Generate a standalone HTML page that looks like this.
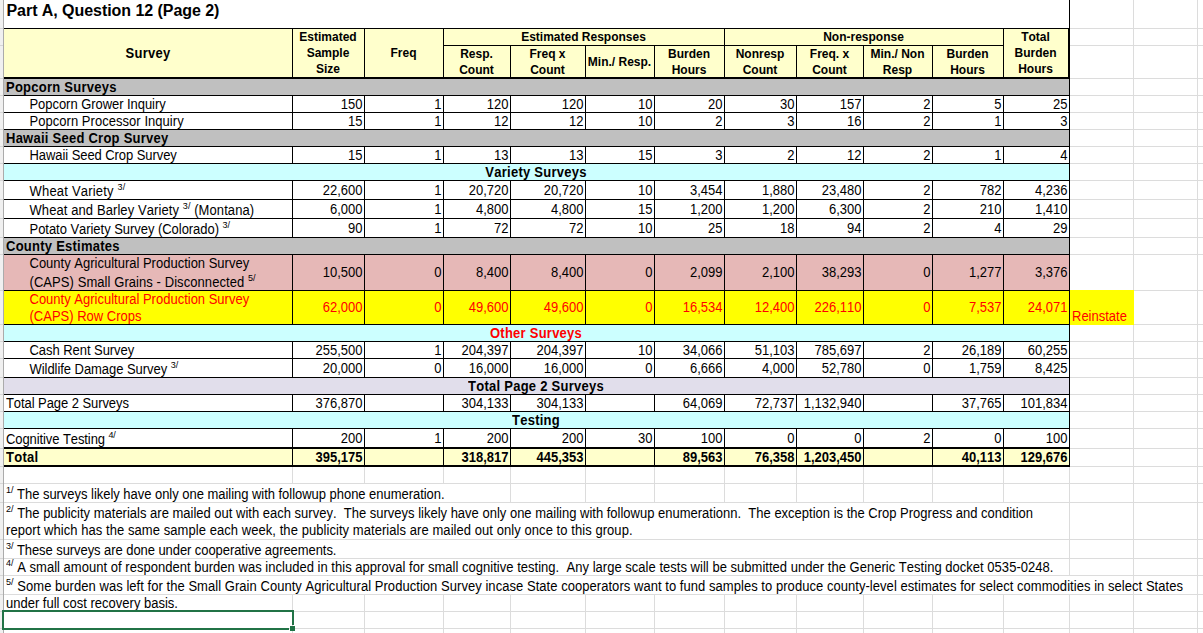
<!DOCTYPE html>
<html><head><meta charset="utf-8"><style>
html,body{margin:0;padding:0;background:#fff;}
body{width:1203px;height:633px;position:relative;overflow:hidden;font-family:"Liberation Sans", sans-serif;}
div{position:absolute;}
.t{white-space:pre;font-kerning:none;}
.sup{font-size:9px;position:relative;top:-6px;line-height:0;}
</style></head><body>
<div style="left:0px;top:0px;width:3px;height:633px;background:#f0f0f0"></div>
<div style="left:3px;top:0px;width:1px;height:633px;background:#ababab"></div>
<div style="left:0px;top:28px;width:3px;height:1px;background:#d6d6d6"></div>
<div style="left:0px;top:45px;width:3px;height:1px;background:#d6d6d6"></div>
<div style="left:0px;top:78px;width:3px;height:1px;background:#d6d6d6"></div>
<div style="left:0px;top:95px;width:3px;height:1px;background:#d6d6d6"></div>
<div style="left:0px;top:112px;width:3px;height:1px;background:#d6d6d6"></div>
<div style="left:0px;top:129px;width:3px;height:1px;background:#d6d6d6"></div>
<div style="left:0px;top:146px;width:3px;height:1px;background:#d6d6d6"></div>
<div style="left:0px;top:163px;width:3px;height:1px;background:#d6d6d6"></div>
<div style="left:0px;top:180px;width:3px;height:1px;background:#d6d6d6"></div>
<div style="left:0px;top:199px;width:3px;height:1px;background:#d6d6d6"></div>
<div style="left:0px;top:218px;width:3px;height:1px;background:#d6d6d6"></div>
<div style="left:0px;top:237px;width:3px;height:1px;background:#d6d6d6"></div>
<div style="left:0px;top:254px;width:3px;height:1px;background:#d6d6d6"></div>
<div style="left:0px;top:290px;width:3px;height:1px;background:#d6d6d6"></div>
<div style="left:0px;top:324px;width:3px;height:1px;background:#d6d6d6"></div>
<div style="left:0px;top:341px;width:3px;height:1px;background:#d6d6d6"></div>
<div style="left:0px;top:358px;width:3px;height:1px;background:#d6d6d6"></div>
<div style="left:0px;top:377px;width:3px;height:1px;background:#d6d6d6"></div>
<div style="left:0px;top:394px;width:3px;height:1px;background:#d6d6d6"></div>
<div style="left:0px;top:411px;width:3px;height:1px;background:#d6d6d6"></div>
<div style="left:0px;top:428px;width:3px;height:1px;background:#d6d6d6"></div>
<div style="left:0px;top:448px;width:3px;height:1px;background:#d6d6d6"></div>
<div style="left:0px;top:466px;width:3px;height:1px;background:#d6d6d6"></div>
<div style="left:0px;top:483px;width:3px;height:1px;background:#d6d6d6"></div>
<div style="left:0px;top:502px;width:3px;height:1px;background:#d6d6d6"></div>
<div style="left:0px;top:539px;width:3px;height:1px;background:#d6d6d6"></div>
<div style="left:0px;top:558px;width:3px;height:1px;background:#d6d6d6"></div>
<div style="left:0px;top:575px;width:3px;height:1px;background:#d6d6d6"></div>
<div style="left:0px;top:594px;width:3px;height:1px;background:#d6d6d6"></div>
<div style="left:0px;top:611px;width:3px;height:1px;background:#d6d6d6"></div>
<div style="left:0px;top:628px;width:3px;height:1px;background:#d6d6d6"></div>
<div style="left:1070px;top:28px;width:133px;height:1px;background:#dcdcdc"></div>
<div style="left:1070px;top:45px;width:133px;height:1px;background:#dcdcdc"></div>
<div style="left:1070px;top:78px;width:133px;height:1px;background:#dcdcdc"></div>
<div style="left:1070px;top:95px;width:133px;height:1px;background:#dcdcdc"></div>
<div style="left:1070px;top:112px;width:133px;height:1px;background:#dcdcdc"></div>
<div style="left:1070px;top:129px;width:133px;height:1px;background:#dcdcdc"></div>
<div style="left:1070px;top:146px;width:133px;height:1px;background:#dcdcdc"></div>
<div style="left:1070px;top:163px;width:133px;height:1px;background:#dcdcdc"></div>
<div style="left:1070px;top:180px;width:133px;height:1px;background:#dcdcdc"></div>
<div style="left:1070px;top:199px;width:133px;height:1px;background:#dcdcdc"></div>
<div style="left:1070px;top:218px;width:133px;height:1px;background:#dcdcdc"></div>
<div style="left:1070px;top:237px;width:133px;height:1px;background:#dcdcdc"></div>
<div style="left:1070px;top:254px;width:133px;height:1px;background:#dcdcdc"></div>
<div style="left:1070px;top:290px;width:133px;height:1px;background:#dcdcdc"></div>
<div style="left:1070px;top:324px;width:133px;height:1px;background:#dcdcdc"></div>
<div style="left:1070px;top:341px;width:133px;height:1px;background:#dcdcdc"></div>
<div style="left:1070px;top:358px;width:133px;height:1px;background:#dcdcdc"></div>
<div style="left:1070px;top:377px;width:133px;height:1px;background:#dcdcdc"></div>
<div style="left:1070px;top:394px;width:133px;height:1px;background:#dcdcdc"></div>
<div style="left:1070px;top:411px;width:133px;height:1px;background:#dcdcdc"></div>
<div style="left:1070px;top:428px;width:133px;height:1px;background:#dcdcdc"></div>
<div style="left:1070px;top:448px;width:133px;height:1px;background:#dcdcdc"></div>
<div style="left:1070px;top:466px;width:133px;height:1px;background:#dcdcdc"></div>
<div style="left:1070px;top:483px;width:133px;height:1px;background:#dcdcdc"></div>
<div style="left:1070px;top:502px;width:133px;height:1px;background:#dcdcdc"></div>
<div style="left:1070px;top:539px;width:133px;height:1px;background:#dcdcdc"></div>
<div style="left:1070px;top:558px;width:133px;height:1px;background:#dcdcdc"></div>
<div style="left:1070px;top:575px;width:133px;height:1px;background:#dcdcdc"></div>
<div style="left:1070px;top:594px;width:133px;height:1px;background:#dcdcdc"></div>
<div style="left:1070px;top:611px;width:133px;height:1px;background:#dcdcdc"></div>
<div style="left:1070px;top:628px;width:133px;height:1px;background:#dcdcdc"></div>
<div style="left:1133px;top:0px;width:1px;height:633px;background:#dcdcdc"></div>
<div style="left:1197px;top:0px;width:1px;height:633px;background:#dcdcdc"></div>
<div style="left:4px;top:483px;width:1066px;height:1px;background:#dcdcdc"></div>
<div style="left:4px;top:502px;width:1066px;height:1px;background:#dcdcdc"></div>
<div style="left:4px;top:539px;width:1066px;height:1px;background:#dcdcdc"></div>
<div style="left:4px;top:558px;width:1066px;height:1px;background:#dcdcdc"></div>
<div style="left:4px;top:575px;width:1066px;height:1px;background:#dcdcdc"></div>
<div style="left:4px;top:594px;width:1066px;height:1px;background:#dcdcdc"></div>
<div style="left:4px;top:611px;width:1066px;height:1px;background:#dcdcdc"></div>
<div style="left:4px;top:628px;width:1066px;height:1px;background:#dcdcdc"></div>
<div style="left:292px;top:467px;width:1px;height:16px;background:#dcdcdc"></div>
<div style="left:364px;top:467px;width:1px;height:16px;background:#dcdcdc"></div>
<div style="left:443px;top:467px;width:1px;height:16px;background:#dcdcdc"></div>
<div style="left:510px;top:467px;width:1px;height:16px;background:#dcdcdc"></div>
<div style="left:585px;top:467px;width:1px;height:16px;background:#dcdcdc"></div>
<div style="left:654px;top:467px;width:1px;height:16px;background:#dcdcdc"></div>
<div style="left:724px;top:467px;width:1px;height:16px;background:#dcdcdc"></div>
<div style="left:796px;top:467px;width:1px;height:16px;background:#dcdcdc"></div>
<div style="left:863px;top:467px;width:1px;height:16px;background:#dcdcdc"></div>
<div style="left:932px;top:467px;width:1px;height:16px;background:#dcdcdc"></div>
<div style="left:1003px;top:467px;width:1px;height:16px;background:#dcdcdc"></div>
<div style="left:1069px;top:467px;width:1px;height:16px;background:#dcdcdc"></div>
<div style="left:510px;top:484px;width:1px;height:18px;background:#dcdcdc"></div>
<div style="left:585px;top:484px;width:1px;height:18px;background:#dcdcdc"></div>
<div style="left:654px;top:484px;width:1px;height:18px;background:#dcdcdc"></div>
<div style="left:724px;top:484px;width:1px;height:18px;background:#dcdcdc"></div>
<div style="left:796px;top:484px;width:1px;height:18px;background:#dcdcdc"></div>
<div style="left:863px;top:484px;width:1px;height:18px;background:#dcdcdc"></div>
<div style="left:932px;top:484px;width:1px;height:18px;background:#dcdcdc"></div>
<div style="left:1003px;top:484px;width:1px;height:18px;background:#dcdcdc"></div>
<div style="left:1069px;top:484px;width:1px;height:18px;background:#dcdcdc"></div>
<div style="left:1069px;top:503px;width:1px;height:36px;background:#dcdcdc"></div>
<div style="left:1069px;top:540px;width:1px;height:18px;background:#dcdcdc"></div>
<div style="left:1069px;top:559px;width:1px;height:16px;background:#dcdcdc"></div>
<div style="left:292px;top:595px;width:1px;height:16px;background:#dcdcdc"></div>
<div style="left:364px;top:595px;width:1px;height:16px;background:#dcdcdc"></div>
<div style="left:443px;top:595px;width:1px;height:16px;background:#dcdcdc"></div>
<div style="left:510px;top:595px;width:1px;height:16px;background:#dcdcdc"></div>
<div style="left:585px;top:595px;width:1px;height:16px;background:#dcdcdc"></div>
<div style="left:654px;top:595px;width:1px;height:16px;background:#dcdcdc"></div>
<div style="left:724px;top:595px;width:1px;height:16px;background:#dcdcdc"></div>
<div style="left:796px;top:595px;width:1px;height:16px;background:#dcdcdc"></div>
<div style="left:863px;top:595px;width:1px;height:16px;background:#dcdcdc"></div>
<div style="left:932px;top:595px;width:1px;height:16px;background:#dcdcdc"></div>
<div style="left:1003px;top:595px;width:1px;height:16px;background:#dcdcdc"></div>
<div style="left:1069px;top:595px;width:1px;height:16px;background:#dcdcdc"></div>
<div style="left:292px;top:612px;width:1px;height:16px;background:#dcdcdc"></div>
<div style="left:364px;top:612px;width:1px;height:16px;background:#dcdcdc"></div>
<div style="left:443px;top:612px;width:1px;height:16px;background:#dcdcdc"></div>
<div style="left:510px;top:612px;width:1px;height:16px;background:#dcdcdc"></div>
<div style="left:585px;top:612px;width:1px;height:16px;background:#dcdcdc"></div>
<div style="left:654px;top:612px;width:1px;height:16px;background:#dcdcdc"></div>
<div style="left:724px;top:612px;width:1px;height:16px;background:#dcdcdc"></div>
<div style="left:796px;top:612px;width:1px;height:16px;background:#dcdcdc"></div>
<div style="left:863px;top:612px;width:1px;height:16px;background:#dcdcdc"></div>
<div style="left:932px;top:612px;width:1px;height:16px;background:#dcdcdc"></div>
<div style="left:1003px;top:612px;width:1px;height:16px;background:#dcdcdc"></div>
<div style="left:1069px;top:612px;width:1px;height:16px;background:#dcdcdc"></div>
<div style="left:292px;top:629px;width:1px;height:4px;background:#dcdcdc"></div>
<div style="left:364px;top:629px;width:1px;height:4px;background:#dcdcdc"></div>
<div style="left:443px;top:629px;width:1px;height:4px;background:#dcdcdc"></div>
<div style="left:510px;top:629px;width:1px;height:4px;background:#dcdcdc"></div>
<div style="left:585px;top:629px;width:1px;height:4px;background:#dcdcdc"></div>
<div style="left:654px;top:629px;width:1px;height:4px;background:#dcdcdc"></div>
<div style="left:724px;top:629px;width:1px;height:4px;background:#dcdcdc"></div>
<div style="left:796px;top:629px;width:1px;height:4px;background:#dcdcdc"></div>
<div style="left:863px;top:629px;width:1px;height:4px;background:#dcdcdc"></div>
<div style="left:932px;top:629px;width:1px;height:4px;background:#dcdcdc"></div>
<div style="left:1003px;top:629px;width:1px;height:4px;background:#dcdcdc"></div>
<div style="left:1069px;top:629px;width:1px;height:4px;background:#dcdcdc"></div>
<div style="left:4px;top:28px;width:1065px;height:50px;background:#ffffcc"></div>
<div style="left:4px;top:79px;width:1065px;height:16px;background:#c0c0c0"></div>
<div style="left:4px;top:130px;width:1065px;height:16px;background:#c0c0c0"></div>
<div style="left:4px;top:164px;width:1065px;height:16px;background:#ccffff"></div>
<div style="left:4px;top:238px;width:1065px;height:16px;background:#c0c0c0"></div>
<div style="left:4px;top:255px;width:1065px;height:35px;background:#e6b8b7"></div>
<div style="left:4px;top:291px;width:1065px;height:33px;background:#ffff00"></div>
<div style="left:1070px;top:290px;width:64px;height:35px;background:#ffff00"></div>
<div style="left:4px;top:325px;width:1065px;height:16px;background:#ccffff"></div>
<div style="left:4px;top:378px;width:1065px;height:16px;background:#e1deeb"></div>
<div style="left:4px;top:412px;width:1065px;height:16px;background:#ccffff"></div>
<div style="left:4px;top:449px;width:1065px;height:16px;background:#ffffcc"></div>
<div style="left:4px;top:28px;width:1066px;height:1px;background:#000"></div>
<div style="left:443px;top:45px;width:560px;height:1px;background:#000"></div>
<div style="left:4px;top:77px;width:1066px;height:2px;background:#000"></div>
<div style="left:4px;top:95px;width:1066px;height:1px;background:#000"></div>
<div style="left:4px;top:112px;width:1066px;height:1px;background:#000"></div>
<div style="left:4px;top:129px;width:1066px;height:1px;background:#000"></div>
<div style="left:4px;top:146px;width:1066px;height:1px;background:#000"></div>
<div style="left:4px;top:163px;width:1066px;height:1px;background:#000"></div>
<div style="left:4px;top:180px;width:1066px;height:1px;background:#000"></div>
<div style="left:4px;top:199px;width:1066px;height:1px;background:#000"></div>
<div style="left:4px;top:218px;width:1066px;height:1px;background:#000"></div>
<div style="left:4px;top:237px;width:1066px;height:1px;background:#000"></div>
<div style="left:4px;top:254px;width:1066px;height:1px;background:#000"></div>
<div style="left:4px;top:290px;width:1066px;height:1px;background:#000"></div>
<div style="left:4px;top:324px;width:1066px;height:1px;background:#000"></div>
<div style="left:4px;top:341px;width:1066px;height:1px;background:#000"></div>
<div style="left:4px;top:358px;width:1066px;height:1px;background:#000"></div>
<div style="left:4px;top:377px;width:1066px;height:1px;background:#000"></div>
<div style="left:4px;top:394px;width:1066px;height:1px;background:#000"></div>
<div style="left:4px;top:411px;width:1066px;height:1px;background:#000"></div>
<div style="left:4px;top:428px;width:1066px;height:1px;background:#000"></div>
<div style="left:4px;top:447px;width:1066px;height:2px;background:#000"></div>
<div style="left:4px;top:465px;width:1066px;height:2px;background:#000"></div>
<div style="left:1069px;top:0px;width:1px;height:28px;background:#000"></div>
<div style="left:1068px;top:28px;width:2px;height:51px;background:#000"></div>
<div style="left:1069px;top:79px;width:1px;height:388px;background:#000"></div>
<div style="left:292px;top:28px;width:1px;height:50px;background:#000"></div>
<div style="left:364px;top:28px;width:1px;height:50px;background:#000"></div>
<div style="left:443px;top:28px;width:1px;height:50px;background:#000"></div>
<div style="left:724px;top:28px;width:1px;height:50px;background:#000"></div>
<div style="left:1003px;top:28px;width:1px;height:50px;background:#000"></div>
<div style="left:510px;top:45px;width:1px;height:33px;background:#000"></div>
<div style="left:585px;top:45px;width:1px;height:33px;background:#000"></div>
<div style="left:654px;top:45px;width:1px;height:33px;background:#000"></div>
<div style="left:796px;top:45px;width:1px;height:33px;background:#000"></div>
<div style="left:863px;top:45px;width:1px;height:33px;background:#000"></div>
<div style="left:932px;top:45px;width:1px;height:33px;background:#000"></div>
<div style="left:292px;top:95px;width:1px;height:34px;background:#000"></div>
<div style="left:364px;top:95px;width:1px;height:34px;background:#000"></div>
<div style="left:443px;top:95px;width:1px;height:34px;background:#000"></div>
<div style="left:510px;top:95px;width:1px;height:34px;background:#000"></div>
<div style="left:585px;top:95px;width:1px;height:34px;background:#000"></div>
<div style="left:654px;top:95px;width:1px;height:34px;background:#000"></div>
<div style="left:724px;top:95px;width:1px;height:34px;background:#000"></div>
<div style="left:796px;top:95px;width:1px;height:34px;background:#000"></div>
<div style="left:863px;top:95px;width:1px;height:34px;background:#000"></div>
<div style="left:932px;top:95px;width:1px;height:34px;background:#000"></div>
<div style="left:1003px;top:95px;width:1px;height:34px;background:#000"></div>
<div style="left:292px;top:146px;width:1px;height:17px;background:#000"></div>
<div style="left:364px;top:146px;width:1px;height:17px;background:#000"></div>
<div style="left:443px;top:146px;width:1px;height:17px;background:#000"></div>
<div style="left:510px;top:146px;width:1px;height:17px;background:#000"></div>
<div style="left:585px;top:146px;width:1px;height:17px;background:#000"></div>
<div style="left:654px;top:146px;width:1px;height:17px;background:#000"></div>
<div style="left:724px;top:146px;width:1px;height:17px;background:#000"></div>
<div style="left:796px;top:146px;width:1px;height:17px;background:#000"></div>
<div style="left:863px;top:146px;width:1px;height:17px;background:#000"></div>
<div style="left:932px;top:146px;width:1px;height:17px;background:#000"></div>
<div style="left:1003px;top:146px;width:1px;height:17px;background:#000"></div>
<div style="left:292px;top:180px;width:1px;height:57px;background:#000"></div>
<div style="left:364px;top:180px;width:1px;height:57px;background:#000"></div>
<div style="left:443px;top:180px;width:1px;height:57px;background:#000"></div>
<div style="left:510px;top:180px;width:1px;height:57px;background:#000"></div>
<div style="left:585px;top:180px;width:1px;height:57px;background:#000"></div>
<div style="left:654px;top:180px;width:1px;height:57px;background:#000"></div>
<div style="left:724px;top:180px;width:1px;height:57px;background:#000"></div>
<div style="left:796px;top:180px;width:1px;height:57px;background:#000"></div>
<div style="left:863px;top:180px;width:1px;height:57px;background:#000"></div>
<div style="left:932px;top:180px;width:1px;height:57px;background:#000"></div>
<div style="left:1003px;top:180px;width:1px;height:57px;background:#000"></div>
<div style="left:292px;top:254px;width:1px;height:70px;background:#000"></div>
<div style="left:364px;top:254px;width:1px;height:70px;background:#000"></div>
<div style="left:443px;top:254px;width:1px;height:70px;background:#000"></div>
<div style="left:510px;top:254px;width:1px;height:70px;background:#000"></div>
<div style="left:585px;top:254px;width:1px;height:70px;background:#000"></div>
<div style="left:654px;top:254px;width:1px;height:70px;background:#000"></div>
<div style="left:724px;top:254px;width:1px;height:70px;background:#000"></div>
<div style="left:796px;top:254px;width:1px;height:70px;background:#000"></div>
<div style="left:863px;top:254px;width:1px;height:70px;background:#000"></div>
<div style="left:932px;top:254px;width:1px;height:70px;background:#000"></div>
<div style="left:1003px;top:254px;width:1px;height:70px;background:#000"></div>
<div style="left:292px;top:341px;width:1px;height:36px;background:#000"></div>
<div style="left:364px;top:341px;width:1px;height:36px;background:#000"></div>
<div style="left:443px;top:341px;width:1px;height:36px;background:#000"></div>
<div style="left:510px;top:341px;width:1px;height:36px;background:#000"></div>
<div style="left:585px;top:341px;width:1px;height:36px;background:#000"></div>
<div style="left:654px;top:341px;width:1px;height:36px;background:#000"></div>
<div style="left:724px;top:341px;width:1px;height:36px;background:#000"></div>
<div style="left:796px;top:341px;width:1px;height:36px;background:#000"></div>
<div style="left:863px;top:341px;width:1px;height:36px;background:#000"></div>
<div style="left:932px;top:341px;width:1px;height:36px;background:#000"></div>
<div style="left:1003px;top:341px;width:1px;height:36px;background:#000"></div>
<div style="left:292px;top:394px;width:1px;height:17px;background:#000"></div>
<div style="left:364px;top:394px;width:1px;height:17px;background:#000"></div>
<div style="left:443px;top:394px;width:1px;height:17px;background:#000"></div>
<div style="left:510px;top:394px;width:1px;height:17px;background:#000"></div>
<div style="left:585px;top:394px;width:1px;height:17px;background:#000"></div>
<div style="left:654px;top:394px;width:1px;height:17px;background:#000"></div>
<div style="left:724px;top:394px;width:1px;height:17px;background:#000"></div>
<div style="left:796px;top:394px;width:1px;height:17px;background:#000"></div>
<div style="left:863px;top:394px;width:1px;height:17px;background:#000"></div>
<div style="left:932px;top:394px;width:1px;height:17px;background:#000"></div>
<div style="left:1003px;top:394px;width:1px;height:17px;background:#000"></div>
<div style="left:292px;top:428px;width:1px;height:38px;background:#000"></div>
<div style="left:364px;top:428px;width:1px;height:38px;background:#000"></div>
<div style="left:443px;top:428px;width:1px;height:38px;background:#000"></div>
<div style="left:510px;top:428px;width:1px;height:38px;background:#000"></div>
<div style="left:585px;top:428px;width:1px;height:38px;background:#000"></div>
<div style="left:654px;top:428px;width:1px;height:38px;background:#000"></div>
<div style="left:724px;top:428px;width:1px;height:38px;background:#000"></div>
<div style="left:796px;top:428px;width:1px;height:38px;background:#000"></div>
<div style="left:863px;top:428px;width:1px;height:38px;background:#000"></div>
<div style="left:932px;top:428px;width:1px;height:38px;background:#000"></div>
<div style="left:1003px;top:428px;width:1px;height:38px;background:#000"></div>
<div class="t" style="top:47.00px;font-size:13px;line-height:13px;color:#000;font-weight:bold;letter-spacing:0.25px;transform:scaleY(1.08);transform-origin:0 11.00px;left:-152px;width:600px;text-align:center;">Survey</div>
<div class="t" style="top:30.84px;font-size:12px;line-height:12px;color:#000;font-weight:bold;left:28px;width:600px;text-align:center;">Estimated</div>
<div class="t" style="top:46.84px;font-size:12px;line-height:12px;color:#000;font-weight:bold;left:28px;width:600px;text-align:center;">Sample</div>
<div class="t" style="top:62.84px;font-size:12px;line-height:12px;color:#000;font-weight:bold;left:28px;width:600px;text-align:center;">Size</div>
<div class="t" style="top:46.84px;font-size:12px;line-height:12px;color:#000;font-weight:bold;left:103.5px;width:600px;text-align:center;">Freq</div>
<div class="t" style="top:30.84px;font-size:12px;line-height:12px;color:#000;font-weight:bold;left:283.5px;width:600px;text-align:center;">Estimated Responses</div>
<div class="t" style="top:30.84px;font-size:12px;line-height:12px;color:#000;font-weight:bold;left:563.5px;width:600px;text-align:center;">Non-response</div>
<div class="t" style="top:47.84px;font-size:12px;line-height:12px;color:#000;font-weight:bold;left:176.5px;width:600px;text-align:center;">Resp.</div>
<div class="t" style="top:63.84px;font-size:12px;line-height:12px;color:#000;font-weight:bold;left:176.5px;width:600px;text-align:center;">Count</div>
<div class="t" style="top:47.84px;font-size:12px;line-height:12px;color:#000;font-weight:bold;left:247.5px;width:600px;text-align:center;">Freq x</div>
<div class="t" style="top:63.84px;font-size:12px;line-height:12px;color:#000;font-weight:bold;left:247.5px;width:600px;text-align:center;">Count</div>
<div class="t" style="top:47.84px;font-size:12px;line-height:12px;color:#000;font-weight:bold;left:389px;width:600px;text-align:center;">Burden</div>
<div class="t" style="top:63.84px;font-size:12px;line-height:12px;color:#000;font-weight:bold;left:389px;width:600px;text-align:center;">Hours</div>
<div class="t" style="top:47.84px;font-size:12px;line-height:12px;color:#000;font-weight:bold;left:460px;width:600px;text-align:center;">Nonresp</div>
<div class="t" style="top:63.84px;font-size:12px;line-height:12px;color:#000;font-weight:bold;left:460px;width:600px;text-align:center;">Count</div>
<div class="t" style="top:47.84px;font-size:12px;line-height:12px;color:#000;font-weight:bold;left:529.5px;width:600px;text-align:center;">Freq. x</div>
<div class="t" style="top:63.84px;font-size:12px;line-height:12px;color:#000;font-weight:bold;left:529.5px;width:600px;text-align:center;">Count</div>
<div class="t" style="top:47.84px;font-size:12px;line-height:12px;color:#000;font-weight:bold;left:597.5px;width:600px;text-align:center;">Min./ Non</div>
<div class="t" style="top:63.84px;font-size:12px;line-height:12px;color:#000;font-weight:bold;left:597.5px;width:600px;text-align:center;">Resp</div>
<div class="t" style="top:47.84px;font-size:12px;line-height:12px;color:#000;font-weight:bold;left:667.5px;width:600px;text-align:center;">Burden</div>
<div class="t" style="top:63.84px;font-size:12px;line-height:12px;color:#000;font-weight:bold;left:667.5px;width:600px;text-align:center;">Hours</div>
<div class="t" style="top:55.84px;font-size:12px;line-height:12px;color:#000;font-weight:bold;left:319.5px;width:600px;text-align:center;">Min./ Resp.</div>
<div class="t" style="top:30.84px;font-size:12px;line-height:12px;color:#000;font-weight:bold;left:735.5px;width:600px;text-align:center;">Total</div>
<div class="t" style="top:46.84px;font-size:12px;line-height:12px;color:#000;font-weight:bold;left:735.5px;width:600px;text-align:center;">Burden</div>
<div class="t" style="top:62.84px;font-size:12px;line-height:12px;color:#000;font-weight:bold;left:735.5px;width:600px;text-align:center;">Hours</div>
<div class="t" style="top:3.46px;font-size:16px;line-height:16px;color:#000;font-weight:bold;letter-spacing:-0.05px;left:6.5px;">Part A, Question 12 (Page 2)</div>
<div class="t" style="top:81.00px;font-size:13px;line-height:13px;color:#000;font-weight:bold;letter-spacing:0.25px;transform:scaleY(1.08);transform-origin:0 11.00px;left:6px;">Popcorn Surveys</div>
<div class="t" style="top:132.00px;font-size:13px;line-height:13px;color:#000;font-weight:bold;letter-spacing:0.25px;transform:scaleY(1.08);transform-origin:0 11.00px;left:6px;">Hawaii Seed Crop Survey</div>
<div class="t" style="top:166.00px;font-size:13px;line-height:13px;color:#000;font-weight:bold;letter-spacing:0.25px;transform:scaleY(1.08);transform-origin:0 11.00px;left:236px;width:600px;text-align:center;">Variety Surveys</div>
<div class="t" style="top:240.00px;font-size:13px;line-height:13px;color:#000;font-weight:bold;letter-spacing:0.25px;transform:scaleY(1.08);transform-origin:0 11.00px;left:6px;">County Estimates</div>
<div class="t" style="top:327.00px;font-size:13px;line-height:13px;color:#ff0000;font-weight:bold;letter-spacing:0.25px;transform:scaleY(1.08);transform-origin:0 11.00px;left:236px;width:600px;text-align:center;">Other Surveys</div>
<div class="t" style="top:380.00px;font-size:13px;line-height:13px;color:#000;font-weight:bold;letter-spacing:0.25px;transform:scaleY(1.08);transform-origin:0 11.00px;left:236px;width:600px;text-align:center;">Total Page 2 Surveys</div>
<div class="t" style="top:414.00px;font-size:13px;line-height:13px;color:#000;font-weight:bold;letter-spacing:0.25px;transform:scaleY(1.08);transform-origin:0 11.00px;left:236px;width:600px;text-align:center;">Testing</div>
<div class="t" style="top:98.00px;font-size:13px;line-height:13px;color:#000;letter-spacing:-0.05px;transform:scaleY(1.08);transform-origin:0 11.00px;left:29.5px;">Popcorn Grower Inquiry</div>
<div class="t" style="top:98.00px;font-size:13px;line-height:13px;color:#000;transform:scaleY(1.08);transform-origin:0 11.00px;right:840.5px;text-align:right;">150</div>
<div class="t" style="top:98.00px;font-size:13px;line-height:13px;color:#000;transform:scaleY(1.08);transform-origin:0 11.00px;right:761.5px;text-align:right;">1</div>
<div class="t" style="top:98.00px;font-size:13px;line-height:13px;color:#000;transform:scaleY(1.08);transform-origin:0 11.00px;right:694.5px;text-align:right;">120</div>
<div class="t" style="top:98.00px;font-size:13px;line-height:13px;color:#000;transform:scaleY(1.08);transform-origin:0 11.00px;right:619.5px;text-align:right;">120</div>
<div class="t" style="top:98.00px;font-size:13px;line-height:13px;color:#000;transform:scaleY(1.08);transform-origin:0 11.00px;right:550.5px;text-align:right;">10</div>
<div class="t" style="top:98.00px;font-size:13px;line-height:13px;color:#000;transform:scaleY(1.08);transform-origin:0 11.00px;right:480.5px;text-align:right;">20</div>
<div class="t" style="top:98.00px;font-size:13px;line-height:13px;color:#000;transform:scaleY(1.08);transform-origin:0 11.00px;right:408.5px;text-align:right;">30</div>
<div class="t" style="top:98.00px;font-size:13px;line-height:13px;color:#000;transform:scaleY(1.08);transform-origin:0 11.00px;right:341.5px;text-align:right;">157</div>
<div class="t" style="top:98.00px;font-size:13px;line-height:13px;color:#000;transform:scaleY(1.08);transform-origin:0 11.00px;right:272.5px;text-align:right;">2</div>
<div class="t" style="top:98.00px;font-size:13px;line-height:13px;color:#000;transform:scaleY(1.08);transform-origin:0 11.00px;right:201.5px;text-align:right;">5</div>
<div class="t" style="top:98.00px;font-size:13px;line-height:13px;color:#000;transform:scaleY(1.08);transform-origin:0 11.00px;right:135.5px;text-align:right;">25</div>
<div class="t" style="top:115.00px;font-size:13px;line-height:13px;color:#000;letter-spacing:0.04px;transform:scaleY(1.08);transform-origin:0 11.00px;left:29.5px;">Popcorn Processor Inquiry</div>
<div class="t" style="top:115.00px;font-size:13px;line-height:13px;color:#000;transform:scaleY(1.08);transform-origin:0 11.00px;right:840.5px;text-align:right;">15</div>
<div class="t" style="top:115.00px;font-size:13px;line-height:13px;color:#000;transform:scaleY(1.08);transform-origin:0 11.00px;right:761.5px;text-align:right;">1</div>
<div class="t" style="top:115.00px;font-size:13px;line-height:13px;color:#000;transform:scaleY(1.08);transform-origin:0 11.00px;right:694.5px;text-align:right;">12</div>
<div class="t" style="top:115.00px;font-size:13px;line-height:13px;color:#000;transform:scaleY(1.08);transform-origin:0 11.00px;right:619.5px;text-align:right;">12</div>
<div class="t" style="top:115.00px;font-size:13px;line-height:13px;color:#000;transform:scaleY(1.08);transform-origin:0 11.00px;right:550.5px;text-align:right;">10</div>
<div class="t" style="top:115.00px;font-size:13px;line-height:13px;color:#000;transform:scaleY(1.08);transform-origin:0 11.00px;right:480.5px;text-align:right;">2</div>
<div class="t" style="top:115.00px;font-size:13px;line-height:13px;color:#000;transform:scaleY(1.08);transform-origin:0 11.00px;right:408.5px;text-align:right;">3</div>
<div class="t" style="top:115.00px;font-size:13px;line-height:13px;color:#000;transform:scaleY(1.08);transform-origin:0 11.00px;right:341.5px;text-align:right;">16</div>
<div class="t" style="top:115.00px;font-size:13px;line-height:13px;color:#000;transform:scaleY(1.08);transform-origin:0 11.00px;right:272.5px;text-align:right;">2</div>
<div class="t" style="top:115.00px;font-size:13px;line-height:13px;color:#000;transform:scaleY(1.08);transform-origin:0 11.00px;right:201.5px;text-align:right;">1</div>
<div class="t" style="top:115.00px;font-size:13px;line-height:13px;color:#000;transform:scaleY(1.08);transform-origin:0 11.00px;right:135.5px;text-align:right;">3</div>
<div class="t" style="top:149.00px;font-size:13px;line-height:13px;color:#000;letter-spacing:-0.07px;transform:scaleY(1.08);transform-origin:0 11.00px;left:29.5px;">Hawaii Seed Crop Survey</div>
<div class="t" style="top:149.00px;font-size:13px;line-height:13px;color:#000;transform:scaleY(1.08);transform-origin:0 11.00px;right:840.5px;text-align:right;">15</div>
<div class="t" style="top:149.00px;font-size:13px;line-height:13px;color:#000;transform:scaleY(1.08);transform-origin:0 11.00px;right:761.5px;text-align:right;">1</div>
<div class="t" style="top:149.00px;font-size:13px;line-height:13px;color:#000;transform:scaleY(1.08);transform-origin:0 11.00px;right:694.5px;text-align:right;">13</div>
<div class="t" style="top:149.00px;font-size:13px;line-height:13px;color:#000;transform:scaleY(1.08);transform-origin:0 11.00px;right:619.5px;text-align:right;">13</div>
<div class="t" style="top:149.00px;font-size:13px;line-height:13px;color:#000;transform:scaleY(1.08);transform-origin:0 11.00px;right:550.5px;text-align:right;">15</div>
<div class="t" style="top:149.00px;font-size:13px;line-height:13px;color:#000;transform:scaleY(1.08);transform-origin:0 11.00px;right:480.5px;text-align:right;">3</div>
<div class="t" style="top:149.00px;font-size:13px;line-height:13px;color:#000;transform:scaleY(1.08);transform-origin:0 11.00px;right:408.5px;text-align:right;">2</div>
<div class="t" style="top:149.00px;font-size:13px;line-height:13px;color:#000;transform:scaleY(1.08);transform-origin:0 11.00px;right:341.5px;text-align:right;">12</div>
<div class="t" style="top:149.00px;font-size:13px;line-height:13px;color:#000;transform:scaleY(1.08);transform-origin:0 11.00px;right:272.5px;text-align:right;">2</div>
<div class="t" style="top:149.00px;font-size:13px;line-height:13px;color:#000;transform:scaleY(1.08);transform-origin:0 11.00px;right:201.5px;text-align:right;">1</div>
<div class="t" style="top:149.00px;font-size:13px;line-height:13px;color:#000;transform:scaleY(1.08);transform-origin:0 11.00px;right:135.5px;text-align:right;">4</div>
<div class="t" style="top:185.00px;font-size:13px;line-height:13px;color:#000;letter-spacing:0.2px;transform:scaleY(1.08);transform-origin:0 11.00px;left:29.5px;">Wheat Variety <span class="sup">3/</span></div>
<div class="t" style="top:184.00px;font-size:13px;line-height:13px;color:#000;transform:scaleY(1.08);transform-origin:0 11.00px;right:840.5px;text-align:right;">22,600</div>
<div class="t" style="top:184.00px;font-size:13px;line-height:13px;color:#000;transform:scaleY(1.08);transform-origin:0 11.00px;right:761.5px;text-align:right;">1</div>
<div class="t" style="top:184.00px;font-size:13px;line-height:13px;color:#000;transform:scaleY(1.08);transform-origin:0 11.00px;right:694.5px;text-align:right;">20,720</div>
<div class="t" style="top:184.00px;font-size:13px;line-height:13px;color:#000;transform:scaleY(1.08);transform-origin:0 11.00px;right:619.5px;text-align:right;">20,720</div>
<div class="t" style="top:184.00px;font-size:13px;line-height:13px;color:#000;transform:scaleY(1.08);transform-origin:0 11.00px;right:550.5px;text-align:right;">10</div>
<div class="t" style="top:184.00px;font-size:13px;line-height:13px;color:#000;transform:scaleY(1.08);transform-origin:0 11.00px;right:480.5px;text-align:right;">3,454</div>
<div class="t" style="top:184.00px;font-size:13px;line-height:13px;color:#000;transform:scaleY(1.08);transform-origin:0 11.00px;right:408.5px;text-align:right;">1,880</div>
<div class="t" style="top:184.00px;font-size:13px;line-height:13px;color:#000;transform:scaleY(1.08);transform-origin:0 11.00px;right:341.5px;text-align:right;">23,480</div>
<div class="t" style="top:184.00px;font-size:13px;line-height:13px;color:#000;transform:scaleY(1.08);transform-origin:0 11.00px;right:272.5px;text-align:right;">2</div>
<div class="t" style="top:184.00px;font-size:13px;line-height:13px;color:#000;transform:scaleY(1.08);transform-origin:0 11.00px;right:201.5px;text-align:right;">782</div>
<div class="t" style="top:184.00px;font-size:13px;line-height:13px;color:#000;transform:scaleY(1.08);transform-origin:0 11.00px;right:135.5px;text-align:right;">4,236</div>
<div class="t" style="top:204.00px;font-size:13px;line-height:13px;color:#000;letter-spacing:0.09px;transform:scaleY(1.08);transform-origin:0 11.00px;left:29.5px;">Wheat and Barley Variety <span class="sup">3/</span> (Montana)</div>
<div class="t" style="top:203.00px;font-size:13px;line-height:13px;color:#000;transform:scaleY(1.08);transform-origin:0 11.00px;right:840.5px;text-align:right;">6,000</div>
<div class="t" style="top:203.00px;font-size:13px;line-height:13px;color:#000;transform:scaleY(1.08);transform-origin:0 11.00px;right:761.5px;text-align:right;">1</div>
<div class="t" style="top:203.00px;font-size:13px;line-height:13px;color:#000;transform:scaleY(1.08);transform-origin:0 11.00px;right:694.5px;text-align:right;">4,800</div>
<div class="t" style="top:203.00px;font-size:13px;line-height:13px;color:#000;transform:scaleY(1.08);transform-origin:0 11.00px;right:619.5px;text-align:right;">4,800</div>
<div class="t" style="top:203.00px;font-size:13px;line-height:13px;color:#000;transform:scaleY(1.08);transform-origin:0 11.00px;right:550.5px;text-align:right;">15</div>
<div class="t" style="top:203.00px;font-size:13px;line-height:13px;color:#000;transform:scaleY(1.08);transform-origin:0 11.00px;right:480.5px;text-align:right;">1,200</div>
<div class="t" style="top:203.00px;font-size:13px;line-height:13px;color:#000;transform:scaleY(1.08);transform-origin:0 11.00px;right:408.5px;text-align:right;">1,200</div>
<div class="t" style="top:203.00px;font-size:13px;line-height:13px;color:#000;transform:scaleY(1.08);transform-origin:0 11.00px;right:341.5px;text-align:right;">6,300</div>
<div class="t" style="top:203.00px;font-size:13px;line-height:13px;color:#000;transform:scaleY(1.08);transform-origin:0 11.00px;right:272.5px;text-align:right;">2</div>
<div class="t" style="top:203.00px;font-size:13px;line-height:13px;color:#000;transform:scaleY(1.08);transform-origin:0 11.00px;right:201.5px;text-align:right;">210</div>
<div class="t" style="top:203.00px;font-size:13px;line-height:13px;color:#000;transform:scaleY(1.08);transform-origin:0 11.00px;right:135.5px;text-align:right;">1,410</div>
<div class="t" style="top:223.00px;font-size:13px;line-height:13px;color:#000;letter-spacing:-0.04px;transform:scaleY(1.08);transform-origin:0 11.00px;left:29.5px;">Potato Variety Survey (Colorado) <span class="sup">3/</span></div>
<div class="t" style="top:222.00px;font-size:13px;line-height:13px;color:#000;transform:scaleY(1.08);transform-origin:0 11.00px;right:840.5px;text-align:right;">90</div>
<div class="t" style="top:222.00px;font-size:13px;line-height:13px;color:#000;transform:scaleY(1.08);transform-origin:0 11.00px;right:761.5px;text-align:right;">1</div>
<div class="t" style="top:222.00px;font-size:13px;line-height:13px;color:#000;transform:scaleY(1.08);transform-origin:0 11.00px;right:694.5px;text-align:right;">72</div>
<div class="t" style="top:222.00px;font-size:13px;line-height:13px;color:#000;transform:scaleY(1.08);transform-origin:0 11.00px;right:619.5px;text-align:right;">72</div>
<div class="t" style="top:222.00px;font-size:13px;line-height:13px;color:#000;transform:scaleY(1.08);transform-origin:0 11.00px;right:550.5px;text-align:right;">10</div>
<div class="t" style="top:222.00px;font-size:13px;line-height:13px;color:#000;transform:scaleY(1.08);transform-origin:0 11.00px;right:480.5px;text-align:right;">25</div>
<div class="t" style="top:222.00px;font-size:13px;line-height:13px;color:#000;transform:scaleY(1.08);transform-origin:0 11.00px;right:408.5px;text-align:right;">18</div>
<div class="t" style="top:222.00px;font-size:13px;line-height:13px;color:#000;transform:scaleY(1.08);transform-origin:0 11.00px;right:341.5px;text-align:right;">94</div>
<div class="t" style="top:222.00px;font-size:13px;line-height:13px;color:#000;transform:scaleY(1.08);transform-origin:0 11.00px;right:272.5px;text-align:right;">2</div>
<div class="t" style="top:222.00px;font-size:13px;line-height:13px;color:#000;transform:scaleY(1.08);transform-origin:0 11.00px;right:201.5px;text-align:right;">4</div>
<div class="t" style="top:222.00px;font-size:13px;line-height:13px;color:#000;transform:scaleY(1.08);transform-origin:0 11.00px;right:135.5px;text-align:right;">29</div>
<div class="t" style="top:344.00px;font-size:13px;line-height:13px;color:#000;letter-spacing:-0.05px;transform:scaleY(1.08);transform-origin:0 11.00px;left:29.5px;">Cash Rent Survey</div>
<div class="t" style="top:344.00px;font-size:13px;line-height:13px;color:#000;transform:scaleY(1.08);transform-origin:0 11.00px;right:840.5px;text-align:right;">255,500</div>
<div class="t" style="top:344.00px;font-size:13px;line-height:13px;color:#000;transform:scaleY(1.08);transform-origin:0 11.00px;right:761.5px;text-align:right;">1</div>
<div class="t" style="top:344.00px;font-size:13px;line-height:13px;color:#000;transform:scaleY(1.08);transform-origin:0 11.00px;right:694.5px;text-align:right;">204,397</div>
<div class="t" style="top:344.00px;font-size:13px;line-height:13px;color:#000;transform:scaleY(1.08);transform-origin:0 11.00px;right:619.5px;text-align:right;">204,397</div>
<div class="t" style="top:344.00px;font-size:13px;line-height:13px;color:#000;transform:scaleY(1.08);transform-origin:0 11.00px;right:550.5px;text-align:right;">10</div>
<div class="t" style="top:344.00px;font-size:13px;line-height:13px;color:#000;transform:scaleY(1.08);transform-origin:0 11.00px;right:480.5px;text-align:right;">34,066</div>
<div class="t" style="top:344.00px;font-size:13px;line-height:13px;color:#000;transform:scaleY(1.08);transform-origin:0 11.00px;right:408.5px;text-align:right;">51,103</div>
<div class="t" style="top:344.00px;font-size:13px;line-height:13px;color:#000;transform:scaleY(1.08);transform-origin:0 11.00px;right:341.5px;text-align:right;">785,697</div>
<div class="t" style="top:344.00px;font-size:13px;line-height:13px;color:#000;transform:scaleY(1.08);transform-origin:0 11.00px;right:272.5px;text-align:right;">2</div>
<div class="t" style="top:344.00px;font-size:13px;line-height:13px;color:#000;transform:scaleY(1.08);transform-origin:0 11.00px;right:201.5px;text-align:right;">26,189</div>
<div class="t" style="top:344.00px;font-size:13px;line-height:13px;color:#000;transform:scaleY(1.08);transform-origin:0 11.00px;right:135.5px;text-align:right;">60,255</div>
<div class="t" style="top:363.00px;font-size:13px;line-height:13px;color:#000;letter-spacing:-0.05px;transform:scaleY(1.08);transform-origin:0 11.00px;left:29.5px;">Wildlife Damage Survey <span class="sup">3/</span></div>
<div class="t" style="top:362.00px;font-size:13px;line-height:13px;color:#000;transform:scaleY(1.08);transform-origin:0 11.00px;right:840.5px;text-align:right;">20,000</div>
<div class="t" style="top:362.00px;font-size:13px;line-height:13px;color:#000;transform:scaleY(1.08);transform-origin:0 11.00px;right:761.5px;text-align:right;">0</div>
<div class="t" style="top:362.00px;font-size:13px;line-height:13px;color:#000;transform:scaleY(1.08);transform-origin:0 11.00px;right:694.5px;text-align:right;">16,000</div>
<div class="t" style="top:362.00px;font-size:13px;line-height:13px;color:#000;transform:scaleY(1.08);transform-origin:0 11.00px;right:619.5px;text-align:right;">16,000</div>
<div class="t" style="top:362.00px;font-size:13px;line-height:13px;color:#000;transform:scaleY(1.08);transform-origin:0 11.00px;right:550.5px;text-align:right;">0</div>
<div class="t" style="top:362.00px;font-size:13px;line-height:13px;color:#000;transform:scaleY(1.08);transform-origin:0 11.00px;right:480.5px;text-align:right;">6,666</div>
<div class="t" style="top:362.00px;font-size:13px;line-height:13px;color:#000;transform:scaleY(1.08);transform-origin:0 11.00px;right:408.5px;text-align:right;">4,000</div>
<div class="t" style="top:362.00px;font-size:13px;line-height:13px;color:#000;transform:scaleY(1.08);transform-origin:0 11.00px;right:341.5px;text-align:right;">52,780</div>
<div class="t" style="top:362.00px;font-size:13px;line-height:13px;color:#000;transform:scaleY(1.08);transform-origin:0 11.00px;right:272.5px;text-align:right;">0</div>
<div class="t" style="top:362.00px;font-size:13px;line-height:13px;color:#000;transform:scaleY(1.08);transform-origin:0 11.00px;right:201.5px;text-align:right;">1,759</div>
<div class="t" style="top:362.00px;font-size:13px;line-height:13px;color:#000;transform:scaleY(1.08);transform-origin:0 11.00px;right:135.5px;text-align:right;">8,425</div>
<div class="t" style="top:397.00px;font-size:13px;line-height:13px;color:#000;letter-spacing:-0.07px;transform:scaleY(1.08);transform-origin:0 11.00px;left:6px;">Total Page 2 Surveys</div>
<div class="t" style="top:397.00px;font-size:13px;line-height:13px;color:#000;transform:scaleY(1.08);transform-origin:0 11.00px;right:840.5px;text-align:right;">376,870</div>
<div class="t" style="top:397.00px;font-size:13px;line-height:13px;color:#000;transform:scaleY(1.08);transform-origin:0 11.00px;right:694.5px;text-align:right;">304,133</div>
<div class="t" style="top:397.00px;font-size:13px;line-height:13px;color:#000;transform:scaleY(1.08);transform-origin:0 11.00px;right:619.5px;text-align:right;">304,133</div>
<div class="t" style="top:397.00px;font-size:13px;line-height:13px;color:#000;transform:scaleY(1.08);transform-origin:0 11.00px;right:480.5px;text-align:right;">64,069</div>
<div class="t" style="top:397.00px;font-size:13px;line-height:13px;color:#000;transform:scaleY(1.08);transform-origin:0 11.00px;right:408.5px;text-align:right;">72,737</div>
<div class="t" style="top:397.00px;font-size:13px;line-height:13px;color:#000;transform:scaleY(1.08);transform-origin:0 11.00px;right:341.5px;text-align:right;">1,132,940</div>
<div class="t" style="top:397.00px;font-size:13px;line-height:13px;color:#000;transform:scaleY(1.08);transform-origin:0 11.00px;right:201.5px;text-align:right;">37,765</div>
<div class="t" style="top:397.00px;font-size:13px;line-height:13px;color:#000;transform:scaleY(1.08);transform-origin:0 11.00px;right:135.5px;text-align:right;">101,834</div>
<div class="t" style="top:433.00px;font-size:13px;line-height:13px;color:#000;letter-spacing:-0.09px;transform:scaleY(1.08);transform-origin:0 11.00px;left:6px;">Cognitive Testing <span class="sup">4/</span></div>
<div class="t" style="top:432.00px;font-size:13px;line-height:13px;color:#000;transform:scaleY(1.08);transform-origin:0 11.00px;right:840.5px;text-align:right;">200</div>
<div class="t" style="top:432.00px;font-size:13px;line-height:13px;color:#000;transform:scaleY(1.08);transform-origin:0 11.00px;right:761.5px;text-align:right;">1</div>
<div class="t" style="top:432.00px;font-size:13px;line-height:13px;color:#000;transform:scaleY(1.08);transform-origin:0 11.00px;right:694.5px;text-align:right;">200</div>
<div class="t" style="top:432.00px;font-size:13px;line-height:13px;color:#000;transform:scaleY(1.08);transform-origin:0 11.00px;right:619.5px;text-align:right;">200</div>
<div class="t" style="top:432.00px;font-size:13px;line-height:13px;color:#000;transform:scaleY(1.08);transform-origin:0 11.00px;right:550.5px;text-align:right;">30</div>
<div class="t" style="top:432.00px;font-size:13px;line-height:13px;color:#000;transform:scaleY(1.08);transform-origin:0 11.00px;right:480.5px;text-align:right;">100</div>
<div class="t" style="top:432.00px;font-size:13px;line-height:13px;color:#000;transform:scaleY(1.08);transform-origin:0 11.00px;right:408.5px;text-align:right;">0</div>
<div class="t" style="top:432.00px;font-size:13px;line-height:13px;color:#000;transform:scaleY(1.08);transform-origin:0 11.00px;right:341.5px;text-align:right;">0</div>
<div class="t" style="top:432.00px;font-size:13px;line-height:13px;color:#000;transform:scaleY(1.08);transform-origin:0 11.00px;right:272.5px;text-align:right;">2</div>
<div class="t" style="top:432.00px;font-size:13px;line-height:13px;color:#000;transform:scaleY(1.08);transform-origin:0 11.00px;right:201.5px;text-align:right;">0</div>
<div class="t" style="top:432.00px;font-size:13px;line-height:13px;color:#000;transform:scaleY(1.08);transform-origin:0 11.00px;right:135.5px;text-align:right;">100</div>
<div class="t" style="top:451.00px;font-size:13px;line-height:13px;color:#000;font-weight:bold;letter-spacing:0.25px;transform:scaleY(1.08);transform-origin:0 11.00px;left:6px;">Total</div>
<div class="t" style="top:451.00px;font-size:13px;line-height:13px;color:#000;font-weight:bold;transform:scaleY(1.08);transform-origin:0 11.00px;right:840.5px;text-align:right;">395,175</div>
<div class="t" style="top:451.00px;font-size:13px;line-height:13px;color:#000;font-weight:bold;transform:scaleY(1.08);transform-origin:0 11.00px;right:694.5px;text-align:right;">318,817</div>
<div class="t" style="top:451.00px;font-size:13px;line-height:13px;color:#000;font-weight:bold;transform:scaleY(1.08);transform-origin:0 11.00px;right:619.5px;text-align:right;">445,353</div>
<div class="t" style="top:451.00px;font-size:13px;line-height:13px;color:#000;font-weight:bold;transform:scaleY(1.08);transform-origin:0 11.00px;right:480.5px;text-align:right;">89,563</div>
<div class="t" style="top:451.00px;font-size:13px;line-height:13px;color:#000;font-weight:bold;transform:scaleY(1.08);transform-origin:0 11.00px;right:408.5px;text-align:right;">76,358</div>
<div class="t" style="top:451.00px;font-size:13px;line-height:13px;color:#000;font-weight:bold;transform:scaleY(1.08);transform-origin:0 11.00px;right:341.5px;text-align:right;">1,203,450</div>
<div class="t" style="top:451.00px;font-size:13px;line-height:13px;color:#000;font-weight:bold;transform:scaleY(1.08);transform-origin:0 11.00px;right:201.5px;text-align:right;">40,113</div>
<div class="t" style="top:451.00px;font-size:13px;line-height:13px;color:#000;font-weight:bold;transform:scaleY(1.08);transform-origin:0 11.00px;right:135.5px;text-align:right;">129,676</div>
<div class="t" style="top:257.00px;font-size:13px;line-height:13px;color:#000;transform:scaleY(1.08);transform-origin:0 11.00px;left:29.5px;">County Agricultural Production Survey</div>
<div class="t" style="top:276.00px;font-size:13px;line-height:13px;color:#000;letter-spacing:0.07px;transform:scaleY(1.08);transform-origin:0 11.00px;left:29.5px;">(CAPS) Small Grains - Disconnected <span class="sup">5/</span></div>
<div class="t" style="top:266.00px;font-size:13px;line-height:13px;color:#000;transform:scaleY(1.08);transform-origin:0 11.00px;right:840.5px;text-align:right;">10,500</div>
<div class="t" style="top:266.00px;font-size:13px;line-height:13px;color:#000;transform:scaleY(1.08);transform-origin:0 11.00px;right:761.5px;text-align:right;">0</div>
<div class="t" style="top:266.00px;font-size:13px;line-height:13px;color:#000;transform:scaleY(1.08);transform-origin:0 11.00px;right:694.5px;text-align:right;">8,400</div>
<div class="t" style="top:266.00px;font-size:13px;line-height:13px;color:#000;transform:scaleY(1.08);transform-origin:0 11.00px;right:619.5px;text-align:right;">8,400</div>
<div class="t" style="top:266.00px;font-size:13px;line-height:13px;color:#000;transform:scaleY(1.08);transform-origin:0 11.00px;right:550.5px;text-align:right;">0</div>
<div class="t" style="top:266.00px;font-size:13px;line-height:13px;color:#000;transform:scaleY(1.08);transform-origin:0 11.00px;right:480.5px;text-align:right;">2,099</div>
<div class="t" style="top:266.00px;font-size:13px;line-height:13px;color:#000;transform:scaleY(1.08);transform-origin:0 11.00px;right:408.5px;text-align:right;">2,100</div>
<div class="t" style="top:266.00px;font-size:13px;line-height:13px;color:#000;transform:scaleY(1.08);transform-origin:0 11.00px;right:341.5px;text-align:right;">38,293</div>
<div class="t" style="top:266.00px;font-size:13px;line-height:13px;color:#000;transform:scaleY(1.08);transform-origin:0 11.00px;right:272.5px;text-align:right;">0</div>
<div class="t" style="top:266.00px;font-size:13px;line-height:13px;color:#000;transform:scaleY(1.08);transform-origin:0 11.00px;right:201.5px;text-align:right;">1,277</div>
<div class="t" style="top:266.00px;font-size:13px;line-height:13px;color:#000;transform:scaleY(1.08);transform-origin:0 11.00px;right:135.5px;text-align:right;">3,376</div>
<div class="t" style="top:293.00px;font-size:13px;line-height:13px;color:#ff0000;transform:scaleY(1.08);transform-origin:0 11.00px;left:29.5px;">County Agricultural Production Survey</div>
<div class="t" style="top:310.00px;font-size:13px;line-height:13px;color:#ff0000;transform:scaleY(1.08);transform-origin:0 11.00px;left:29.5px;">(CAPS) Row Crops</div>
<div class="t" style="top:301.00px;font-size:13px;line-height:13px;color:#ff0000;transform:scaleY(1.08);transform-origin:0 11.00px;right:840.5px;text-align:right;">62,000</div>
<div class="t" style="top:301.00px;font-size:13px;line-height:13px;color:#ff0000;transform:scaleY(1.08);transform-origin:0 11.00px;right:761.5px;text-align:right;">0</div>
<div class="t" style="top:301.00px;font-size:13px;line-height:13px;color:#ff0000;transform:scaleY(1.08);transform-origin:0 11.00px;right:694.5px;text-align:right;">49,600</div>
<div class="t" style="top:301.00px;font-size:13px;line-height:13px;color:#ff0000;transform:scaleY(1.08);transform-origin:0 11.00px;right:619.5px;text-align:right;">49,600</div>
<div class="t" style="top:301.00px;font-size:13px;line-height:13px;color:#ff0000;transform:scaleY(1.08);transform-origin:0 11.00px;right:550.5px;text-align:right;">0</div>
<div class="t" style="top:301.00px;font-size:13px;line-height:13px;color:#ff0000;transform:scaleY(1.08);transform-origin:0 11.00px;right:480.5px;text-align:right;">16,534</div>
<div class="t" style="top:301.00px;font-size:13px;line-height:13px;color:#ff0000;transform:scaleY(1.08);transform-origin:0 11.00px;right:408.5px;text-align:right;">12,400</div>
<div class="t" style="top:301.00px;font-size:13px;line-height:13px;color:#ff0000;transform:scaleY(1.08);transform-origin:0 11.00px;right:341.5px;text-align:right;">226,110</div>
<div class="t" style="top:301.00px;font-size:13px;line-height:13px;color:#ff0000;transform:scaleY(1.08);transform-origin:0 11.00px;right:272.5px;text-align:right;">0</div>
<div class="t" style="top:301.00px;font-size:13px;line-height:13px;color:#ff0000;transform:scaleY(1.08);transform-origin:0 11.00px;right:201.5px;text-align:right;">7,537</div>
<div class="t" style="top:301.00px;font-size:13px;line-height:13px;color:#ff0000;transform:scaleY(1.08);transform-origin:0 11.00px;right:135.5px;text-align:right;">24,071</div>
<div class="t" style="top:310.00px;font-size:13px;line-height:13px;color:#ff0000;transform:scaleY(1.08);transform-origin:0 11.00px;left:1072px;">Reinstate</div>
<div class="t" style="top:488.00px;font-size:13px;line-height:13px;color:#000;letter-spacing:-0.033px;transform:scaleY(1.08);transform-origin:0 11.00px;left:6px;"><span class="sup">1/</span> The surveys likely have only one mailing with followup phone enumeration.</div>
<div class="t" style="top:507.00px;font-size:13px;line-height:13px;color:#000;transform:scaleY(1.08);transform-origin:0 11.00px;left:6px;"><span class="sup">2/</span> The publicity materials are mailed out with each survey.&nbsp; The surveys likely have only one mailing with followup enumerationn.&nbsp; The exception is the Crop Progress and condition</div>
<div class="t" style="top:524.00px;font-size:13px;line-height:13px;color:#000;letter-spacing:0.062px;transform:scaleY(1.08);transform-origin:0 11.00px;left:6px;">report which has the same sample each week, the publicity materials are mailed out only once to this group.</div>
<div class="t" style="top:544.00px;font-size:13px;line-height:13px;color:#000;letter-spacing:-0.069px;transform:scaleY(1.08);transform-origin:0 11.00px;left:6px;"><span class="sup">3/</span> These surveys are done under cooperative agreements.</div>
<div class="t" style="top:561.00px;font-size:13px;line-height:13px;color:#000;letter-spacing:0.024px;transform:scaleY(1.08);transform-origin:0 11.00px;left:6px;"><span class="sup">4/</span> A small amount of respondent burden was included in this approval for small cognitive testing.&nbsp; Any large scale tests will be submitted under the Generic Testing docket 0535-0248.</div>
<div class="t" style="top:580.00px;font-size:13px;line-height:13px;color:#000;letter-spacing:0.045px;transform:scaleY(1.08);transform-origin:0 11.00px;left:6px;"><span class="sup">5/</span> Some burden was left for the Small Grain County Agricultural Production Survey incase State cooperators want to fund samples to produce county-level estimates for select commodities in select States</div>
<div class="t" style="top:597.00px;font-size:13px;line-height:13px;color:#000;transform:scaleY(1.08);transform-origin:0 11.00px;left:6px;">under full cost recovery basis.</div>
<div style="left:2px;top:610px;width:292px;height:2px;background:#217346"></div>
<div style="left:2px;top:610px;width:2px;height:20px;background:#217346"></div>
<div style="left:292px;top:610px;width:2px;height:15px;background:#217346"></div>
<div style="left:2px;top:628px;width:287px;height:2px;background:#217346"></div>
<div style="left:290px;top:626px;width:5px;height:5px;background:#217346"></div>
</body></html>
